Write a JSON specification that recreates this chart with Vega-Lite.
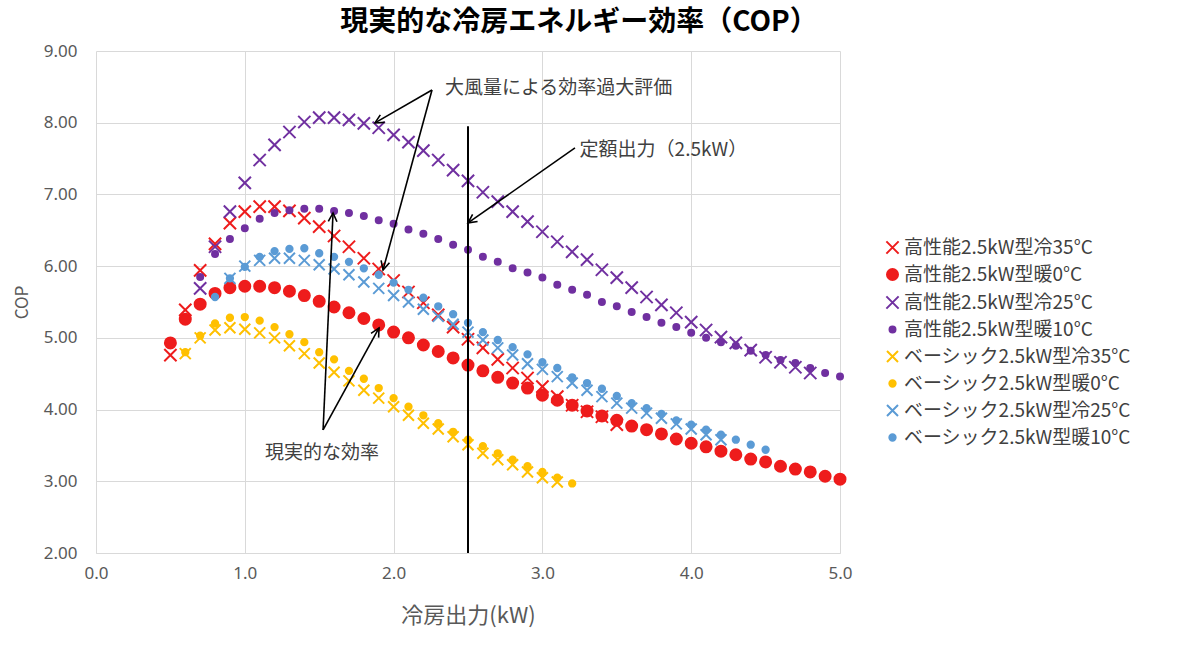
{
  "$schema": "https://vega.github.io/schema/vega-lite/v6.json",
  "description": "現実的な冷房エネルギー効率（COP）: 高性能とベーシックの2.5kW型エアコン",
  "autosize": "none",
  "padding": {"left": 96, "top": 51, "right": 360, "bottom": 101},
  "width": 744,
  "height": 502,
  "background": "white",
  "title": {
    "text": "現実的な冷房エネルギー効率（COP）",
    "font": "Noto Sans CJK JP",
    "fontSize": 28,
    "fontWeight": "bold",
    "color": "#000000",
    "anchor": "middle",
    "dx": 111,
    "offset": 5
  },
  "config": {
    "view": {"stroke": null},
    "axis": {
      "labelFont": "Noto Sans",
      "labelFontSize": 17,
      "labelColor": "#595959",
      "labelFlush": false,
      "titleFont": "Noto Sans CJK JP",
      "titleColor": "#595959",
      "titleFontWeight": "normal",
      "gridColor": "#d9d9d9",
      "domainColor": "#d9d9d9",
      "ticks": false
    },
    "legend": {
      "labelFont": "Noto Sans CJK JP",
      "labelFontSize": 19,
      "labelColor": "#404040",
      "labelLimit": 400,
      "symbolStrokeWidth": 2,
      "padding": 0
    }
  },
  "layer": [
    {
      "data": {
        "values": [
          {"s": "高性能2.5kW型冷35°C", "x": 0.5, "y": 4.76},
          {"s": "高性能2.5kW型冷35°C", "x": 0.6, "y": 5.39},
          {"s": "高性能2.5kW型冷35°C", "x": 0.7, "y": 5.94},
          {"s": "高性能2.5kW型冷35°C", "x": 0.8, "y": 6.31},
          {"s": "高性能2.5kW型冷35°C", "x": 0.9, "y": 6.6},
          {"s": "高性能2.5kW型冷35°C", "x": 1.0, "y": 6.76},
          {"s": "高性能2.5kW型冷35°C", "x": 1.1, "y": 6.83},
          {"s": "高性能2.5kW型冷35°C", "x": 1.2, "y": 6.83},
          {"s": "高性能2.5kW型冷35°C", "x": 1.3, "y": 6.77},
          {"s": "高性能2.5kW型冷35°C", "x": 1.4, "y": 6.67},
          {"s": "高性能2.5kW型冷35°C", "x": 1.5, "y": 6.55},
          {"s": "高性能2.5kW型冷35°C", "x": 1.6, "y": 6.42},
          {"s": "高性能2.5kW型冷35°C", "x": 1.7, "y": 6.27},
          {"s": "高性能2.5kW型冷35°C", "x": 1.8, "y": 6.11},
          {"s": "高性能2.5kW型冷35°C", "x": 1.9, "y": 5.96},
          {"s": "高性能2.5kW型冷35°C", "x": 2.0, "y": 5.8},
          {"s": "高性能2.5kW型冷35°C", "x": 2.1, "y": 5.64},
          {"s": "高性能2.5kW型冷35°C", "x": 2.2, "y": 5.49},
          {"s": "高性能2.5kW型冷35°C", "x": 2.3, "y": 5.32},
          {"s": "高性能2.5kW型冷35°C", "x": 2.4, "y": 5.15},
          {"s": "高性能2.5kW型冷35°C", "x": 2.5, "y": 4.98},
          {"s": "高性能2.5kW型冷35°C", "x": 2.6, "y": 4.86},
          {"s": "高性能2.5kW型冷35°C", "x": 2.7, "y": 4.7},
          {"s": "高性能2.5kW型冷35°C", "x": 2.8, "y": 4.58},
          {"s": "高性能2.5kW型冷35°C", "x": 2.9, "y": 4.44},
          {"s": "高性能2.5kW型冷35°C", "x": 3.0, "y": 4.32},
          {"s": "高性能2.5kW型冷35°C", "x": 3.1, "y": 4.18},
          {"s": "高性能2.5kW型冷35°C", "x": 3.2, "y": 4.06},
          {"s": "高性能2.5kW型冷35°C", "x": 3.3, "y": 3.97},
          {"s": "高性能2.5kW型冷35°C", "x": 3.4, "y": 3.9},
          {"s": "高性能2.5kW型冷35°C", "x": 3.5, "y": 3.79},

          {"s": "高性能2.5kW型暖0°C", "x": 0.5, "y": 4.93},
          {"s": "高性能2.5kW型暖0°C", "x": 0.6, "y": 5.26},
          {"s": "高性能2.5kW型暖0°C", "x": 0.7, "y": 5.47},
          {"s": "高性能2.5kW型暖0°C", "x": 0.8, "y": 5.62},
          {"s": "高性能2.5kW型暖0°C", "x": 0.9, "y": 5.7},
          {"s": "高性能2.5kW型暖0°C", "x": 1.0, "y": 5.72},
          {"s": "高性能2.5kW型暖0°C", "x": 1.1, "y": 5.72},
          {"s": "高性能2.5kW型暖0°C", "x": 1.2, "y": 5.7},
          {"s": "高性能2.5kW型暖0°C", "x": 1.3, "y": 5.65},
          {"s": "高性能2.5kW型暖0°C", "x": 1.4, "y": 5.59},
          {"s": "高性能2.5kW型暖0°C", "x": 1.5, "y": 5.51},
          {"s": "高性能2.5kW型暖0°C", "x": 1.6, "y": 5.43},
          {"s": "高性能2.5kW型暖0°C", "x": 1.7, "y": 5.35},
          {"s": "高性能2.5kW型暖0°C", "x": 1.8, "y": 5.27},
          {"s": "高性能2.5kW型暖0°C", "x": 1.9, "y": 5.18},
          {"s": "高性能2.5kW型暖0°C", "x": 2.0, "y": 5.08},
          {"s": "高性能2.5kW型暖0°C", "x": 2.1, "y": 5.0},
          {"s": "高性能2.5kW型暖0°C", "x": 2.2, "y": 4.9},
          {"s": "高性能2.5kW型暖0°C", "x": 2.3, "y": 4.81},
          {"s": "高性能2.5kW型暖0°C", "x": 2.4, "y": 4.72},
          {"s": "高性能2.5kW型暖0°C", "x": 2.5, "y": 4.62},
          {"s": "高性能2.5kW型暖0°C", "x": 2.6, "y": 4.54},
          {"s": "高性能2.5kW型暖0°C", "x": 2.7, "y": 4.45},
          {"s": "高性能2.5kW型暖0°C", "x": 2.8, "y": 4.37},
          {"s": "高性能2.5kW型暖0°C", "x": 2.9, "y": 4.3},
          {"s": "高性能2.5kW型暖0°C", "x": 3.0, "y": 4.2},
          {"s": "高性能2.5kW型暖0°C", "x": 3.1, "y": 4.13},
          {"s": "高性能2.5kW型暖0°C", "x": 3.2, "y": 4.06},
          {"s": "高性能2.5kW型暖0°C", "x": 3.3, "y": 3.98},
          {"s": "高性能2.5kW型暖0°C", "x": 3.4, "y": 3.91},
          {"s": "高性能2.5kW型暖0°C", "x": 3.5, "y": 3.85},
          {"s": "高性能2.5kW型暖0°C", "x": 3.6, "y": 3.77},
          {"s": "高性能2.5kW型暖0°C", "x": 3.7, "y": 3.72},
          {"s": "高性能2.5kW型暖0°C", "x": 3.8, "y": 3.66},
          {"s": "高性能2.5kW型暖0°C", "x": 3.9, "y": 3.59},
          {"s": "高性能2.5kW型暖0°C", "x": 4.0, "y": 3.53},
          {"s": "高性能2.5kW型暖0°C", "x": 4.1, "y": 3.48},
          {"s": "高性能2.5kW型暖0°C", "x": 4.2, "y": 3.42},
          {"s": "高性能2.5kW型暖0°C", "x": 4.3, "y": 3.37},
          {"s": "高性能2.5kW型暖0°C", "x": 4.4, "y": 3.31},
          {"s": "高性能2.5kW型暖0°C", "x": 4.5, "y": 3.27},
          {"s": "高性能2.5kW型暖0°C", "x": 4.6, "y": 3.21},
          {"s": "高性能2.5kW型暖0°C", "x": 4.7, "y": 3.17},
          {"s": "高性能2.5kW型暖0°C", "x": 4.8, "y": 3.13},
          {"s": "高性能2.5kW型暖0°C", "x": 4.9, "y": 3.07},
          {"s": "高性能2.5kW型暖0°C", "x": 5.0, "y": 3.03},

          {"s": "高性能2.5kW型冷25°C", "x": 0.7, "y": 5.69},
          {"s": "高性能2.5kW型冷25°C", "x": 0.8, "y": 6.27},
          {"s": "高性能2.5kW型冷25°C", "x": 0.9, "y": 6.76},
          {"s": "高性能2.5kW型冷25°C", "x": 1.0, "y": 7.16},
          {"s": "高性能2.5kW型冷25°C", "x": 1.1, "y": 7.48},
          {"s": "高性能2.5kW型冷25°C", "x": 1.2, "y": 7.69},
          {"s": "高性能2.5kW型冷25°C", "x": 1.3, "y": 7.87},
          {"s": "高性能2.5kW型冷25°C", "x": 1.4, "y": 8.01},
          {"s": "高性能2.5kW型冷25°C", "x": 1.5, "y": 8.07},
          {"s": "高性能2.5kW型冷25°C", "x": 1.6, "y": 8.07},
          {"s": "高性能2.5kW型冷25°C", "x": 1.7, "y": 8.04},
          {"s": "高性能2.5kW型冷25°C", "x": 1.8, "y": 7.99},
          {"s": "高性能2.5kW型冷25°C", "x": 1.9, "y": 7.93},
          {"s": "高性能2.5kW型冷25°C", "x": 2.0, "y": 7.83},
          {"s": "高性能2.5kW型冷25°C", "x": 2.1, "y": 7.73},
          {"s": "高性能2.5kW型冷25°C", "x": 2.2, "y": 7.61},
          {"s": "高性能2.5kW型冷25°C", "x": 2.3, "y": 7.48},
          {"s": "高性能2.5kW型冷25°C", "x": 2.4, "y": 7.34},
          {"s": "高性能2.5kW型冷25°C", "x": 2.5, "y": 7.19},
          {"s": "高性能2.5kW型冷25°C", "x": 2.6, "y": 7.03},
          {"s": "高性能2.5kW型冷25°C", "x": 2.7, "y": 6.9},
          {"s": "高性能2.5kW型冷25°C", "x": 2.8, "y": 6.76},
          {"s": "高性能2.5kW型冷25°C", "x": 2.9, "y": 6.62},
          {"s": "高性能2.5kW型冷25°C", "x": 3.0, "y": 6.48},
          {"s": "高性能2.5kW型冷25°C", "x": 3.1, "y": 6.34},
          {"s": "高性能2.5kW型冷25°C", "x": 3.2, "y": 6.2},
          {"s": "高性能2.5kW型冷25°C", "x": 3.3, "y": 6.09},
          {"s": "高性能2.5kW型冷25°C", "x": 3.4, "y": 5.95},
          {"s": "高性能2.5kW型冷25°C", "x": 3.5, "y": 5.84},
          {"s": "高性能2.5kW型冷25°C", "x": 3.6, "y": 5.7},
          {"s": "高性能2.5kW型冷25°C", "x": 3.7, "y": 5.57},
          {"s": "高性能2.5kW型冷25°C", "x": 3.8, "y": 5.46},
          {"s": "高性能2.5kW型冷25°C", "x": 3.9, "y": 5.35},
          {"s": "高性能2.5kW型冷25°C", "x": 4.0, "y": 5.22},
          {"s": "高性能2.5kW型冷25°C", "x": 4.1, "y": 5.11},
          {"s": "高性能2.5kW型冷25°C", "x": 4.2, "y": 5.01},
          {"s": "高性能2.5kW型冷25°C", "x": 4.3, "y": 4.93},
          {"s": "高性能2.5kW型冷25°C", "x": 4.4, "y": 4.83},
          {"s": "高性能2.5kW型冷25°C", "x": 4.5, "y": 4.73},
          {"s": "高性能2.5kW型冷25°C", "x": 4.6, "y": 4.66},
          {"s": "高性能2.5kW型冷25°C", "x": 4.7, "y": 4.59},
          {"s": "高性能2.5kW型冷25°C", "x": 4.8, "y": 4.51},

          {"s": "高性能2.5kW型暖10°C", "x": 0.7, "y": 5.85},
          {"s": "高性能2.5kW型暖10°C", "x": 0.8, "y": 6.17},
          {"s": "高性能2.5kW型暖10°C", "x": 0.9, "y": 6.38},
          {"s": "高性能2.5kW型暖10°C", "x": 1.0, "y": 6.53},
          {"s": "高性能2.5kW型暖10°C", "x": 1.1, "y": 6.66},
          {"s": "高性能2.5kW型暖10°C", "x": 1.2, "y": 6.74},
          {"s": "高性能2.5kW型暖10°C", "x": 1.3, "y": 6.78},
          {"s": "高性能2.5kW型暖10°C", "x": 1.4, "y": 6.8},
          {"s": "高性能2.5kW型暖10°C", "x": 1.5, "y": 6.8},
          {"s": "高性能2.5kW型暖10°C", "x": 1.6, "y": 6.77},
          {"s": "高性能2.5kW型暖10°C", "x": 1.7, "y": 6.74},
          {"s": "高性能2.5kW型暖10°C", "x": 1.8, "y": 6.7},
          {"s": "高性能2.5kW型暖10°C", "x": 1.9, "y": 6.64},
          {"s": "高性能2.5kW型暖10°C", "x": 2.0, "y": 6.59},
          {"s": "高性能2.5kW型暖10°C", "x": 2.1, "y": 6.51},
          {"s": "高性能2.5kW型暖10°C", "x": 2.2, "y": 6.45},
          {"s": "高性能2.5kW型暖10°C", "x": 2.3, "y": 6.38},
          {"s": "高性能2.5kW型暖10°C", "x": 2.4, "y": 6.3},
          {"s": "高性能2.5kW型暖10°C", "x": 2.5, "y": 6.23},
          {"s": "高性能2.5kW型暖10°C", "x": 2.6, "y": 6.13},
          {"s": "高性能2.5kW型暖10°C", "x": 2.7, "y": 6.06},
          {"s": "高性能2.5kW型暖10°C", "x": 2.8, "y": 5.97},
          {"s": "高性能2.5kW型暖10°C", "x": 2.9, "y": 5.91},
          {"s": "高性能2.5kW型暖10°C", "x": 3.0, "y": 5.84},
          {"s": "高性能2.5kW型暖10°C", "x": 3.1, "y": 5.74},
          {"s": "高性能2.5kW型暖10°C", "x": 3.2, "y": 5.67},
          {"s": "高性能2.5kW型暖10°C", "x": 3.3, "y": 5.6},
          {"s": "高性能2.5kW型暖10°C", "x": 3.4, "y": 5.5},
          {"s": "高性能2.5kW型暖10°C", "x": 3.5, "y": 5.44},
          {"s": "高性能2.5kW型暖10°C", "x": 3.6, "y": 5.36},
          {"s": "高性能2.5kW型暖10°C", "x": 3.7, "y": 5.29},
          {"s": "高性能2.5kW型暖10°C", "x": 3.8, "y": 5.21},
          {"s": "高性能2.5kW型暖10°C", "x": 3.9, "y": 5.15},
          {"s": "高性能2.5kW型暖10°C", "x": 4.0, "y": 5.07},
          {"s": "高性能2.5kW型暖10°C", "x": 4.1, "y": 5.0},
          {"s": "高性能2.5kW型暖10°C", "x": 4.2, "y": 4.94},
          {"s": "高性能2.5kW型暖10°C", "x": 4.3, "y": 4.89},
          {"s": "高性能2.5kW型暖10°C", "x": 4.4, "y": 4.82},
          {"s": "高性能2.5kW型暖10°C", "x": 4.5, "y": 4.76},
          {"s": "高性能2.5kW型暖10°C", "x": 4.6, "y": 4.69},
          {"s": "高性能2.5kW型暖10°C", "x": 4.7, "y": 4.65},
          {"s": "高性能2.5kW型暖10°C", "x": 4.8, "y": 4.58},
          {"s": "高性能2.5kW型暖10°C", "x": 4.9, "y": 4.51},
          {"s": "高性能2.5kW型暖10°C", "x": 5.0, "y": 4.46},

          {"s": "ベーシック2.5kW型冷35°C", "x": 0.6, "y": 4.78},
          {"s": "ベーシック2.5kW型冷35°C", "x": 0.7, "y": 5.0},
          {"s": "ベーシック2.5kW型冷35°C", "x": 0.8, "y": 5.11},
          {"s": "ベーシック2.5kW型冷35°C", "x": 0.9, "y": 5.14},
          {"s": "ベーシック2.5kW型冷35°C", "x": 1.0, "y": 5.12},
          {"s": "ベーシック2.5kW型冷35°C", "x": 1.1, "y": 5.07},
          {"s": "ベーシック2.5kW型冷35°C", "x": 1.2, "y": 5.0},
          {"s": "ベーシック2.5kW型冷35°C", "x": 1.3, "y": 4.89},
          {"s": "ベーシック2.5kW型冷35°C", "x": 1.4, "y": 4.78},
          {"s": "ベーシック2.5kW型冷35°C", "x": 1.5, "y": 4.65},
          {"s": "ベーシック2.5kW型冷35°C", "x": 1.6, "y": 4.52},
          {"s": "ベーシック2.5kW型冷35°C", "x": 1.7, "y": 4.4},
          {"s": "ベーシック2.5kW型冷35°C", "x": 1.8, "y": 4.27},
          {"s": "ベーシック2.5kW型冷35°C", "x": 1.9, "y": 4.16},
          {"s": "ベーシック2.5kW型冷35°C", "x": 2.0, "y": 4.04},
          {"s": "ベーシック2.5kW型冷35°C", "x": 2.1, "y": 3.92},
          {"s": "ベーシック2.5kW型冷35°C", "x": 2.2, "y": 3.81},
          {"s": "ベーシック2.5kW型冷35°C", "x": 2.3, "y": 3.73},
          {"s": "ベーシック2.5kW型冷35°C", "x": 2.4, "y": 3.62},
          {"s": "ベーシック2.5kW型冷35°C", "x": 2.5, "y": 3.51},
          {"s": "ベーシック2.5kW型冷35°C", "x": 2.6, "y": 3.39},
          {"s": "ベーシック2.5kW型冷35°C", "x": 2.7, "y": 3.3},
          {"s": "ベーシック2.5kW型冷35°C", "x": 2.8, "y": 3.23},
          {"s": "ベーシック2.5kW型冷35°C", "x": 2.9, "y": 3.13},
          {"s": "ベーシック2.5kW型冷35°C", "x": 3.0, "y": 3.05},
          {"s": "ベーシック2.5kW型冷35°C", "x": 3.1, "y": 2.99},

          {"s": "ベーシック2.5kW型暖0°C", "x": 0.6, "y": 4.8},
          {"s": "ベーシック2.5kW型暖0°C", "x": 0.7, "y": 5.03},
          {"s": "ベーシック2.5kW型暖0°C", "x": 0.8, "y": 5.2},
          {"s": "ベーシック2.5kW型暖0°C", "x": 0.9, "y": 5.28},
          {"s": "ベーシック2.5kW型暖0°C", "x": 1.0, "y": 5.29},
          {"s": "ベーシック2.5kW型暖0°C", "x": 1.1, "y": 5.24},
          {"s": "ベーシック2.5kW型暖0°C", "x": 1.2, "y": 5.15},
          {"s": "ベーシック2.5kW型暖0°C", "x": 1.3, "y": 5.05},
          {"s": "ベーシック2.5kW型暖0°C", "x": 1.4, "y": 4.94},
          {"s": "ベーシック2.5kW型暖0°C", "x": 1.5, "y": 4.8},
          {"s": "ベーシック2.5kW型暖0°C", "x": 1.6, "y": 4.7},
          {"s": "ベーシック2.5kW型暖0°C", "x": 1.7, "y": 4.54},
          {"s": "ベーシック2.5kW型暖0°C", "x": 1.8, "y": 4.43},
          {"s": "ベーシック2.5kW型暖0°C", "x": 1.9, "y": 4.3},
          {"s": "ベーシック2.5kW型暖0°C", "x": 2.0, "y": 4.16},
          {"s": "ベーシック2.5kW型暖0°C", "x": 2.1, "y": 4.04},
          {"s": "ベーシック2.5kW型暖0°C", "x": 2.2, "y": 3.92},
          {"s": "ベーシック2.5kW型暖0°C", "x": 2.3, "y": 3.81},
          {"s": "ベーシック2.5kW型暖0°C", "x": 2.4, "y": 3.69},
          {"s": "ベーシック2.5kW型暖0°C", "x": 2.5, "y": 3.58},
          {"s": "ベーシック2.5kW型暖0°C", "x": 2.6, "y": 3.49},
          {"s": "ベーシック2.5kW型暖0°C", "x": 2.7, "y": 3.39},
          {"s": "ベーシック2.5kW型暖0°C", "x": 2.8, "y": 3.3},
          {"s": "ベーシック2.5kW型暖0°C", "x": 2.9, "y": 3.21},
          {"s": "ベーシック2.5kW型暖0°C", "x": 3.0, "y": 3.13},
          {"s": "ベーシック2.5kW型暖0°C", "x": 3.1, "y": 3.05},
          {"s": "ベーシック2.5kW型暖0°C", "x": 3.2, "y": 2.97},

          {"s": "ベーシック2.5kW型冷25°C", "x": 0.9, "y": 5.83},
          {"s": "ベーシック2.5kW型冷25°C", "x": 1.0, "y": 6.0},
          {"s": "ベーシック2.5kW型冷25°C", "x": 1.1, "y": 6.08},
          {"s": "ベーシック2.5kW型冷25°C", "x": 1.2, "y": 6.11},
          {"s": "ベーシック2.5kW型冷25°C", "x": 1.3, "y": 6.11},
          {"s": "ベーシック2.5kW型冷25°C", "x": 1.4, "y": 6.08},
          {"s": "ベーシック2.5kW型冷25°C", "x": 1.5, "y": 6.02},
          {"s": "ベーシック2.5kW型冷25°C", "x": 1.6, "y": 5.96},
          {"s": "ベーシック2.5kW型冷25°C", "x": 1.7, "y": 5.88},
          {"s": "ベーシック2.5kW型冷25°C", "x": 1.8, "y": 5.78},
          {"s": "ベーシック2.5kW型冷25°C", "x": 1.9, "y": 5.69},
          {"s": "ベーシック2.5kW型冷25°C", "x": 2.0, "y": 5.59},
          {"s": "ベーシック2.5kW型冷25°C", "x": 2.1, "y": 5.5},
          {"s": "ベーシック2.5kW型冷25°C", "x": 2.2, "y": 5.4},
          {"s": "ベーシック2.5kW型冷25°C", "x": 2.3, "y": 5.3},
          {"s": "ベーシック2.5kW型冷25°C", "x": 2.4, "y": 5.19},
          {"s": "ベーシック2.5kW型冷25°C", "x": 2.5, "y": 5.08},
          {"s": "ベーシック2.5kW型冷25°C", "x": 2.6, "y": 4.97},
          {"s": "ベーシック2.5kW型冷25°C", "x": 2.7, "y": 4.86},
          {"s": "ベーシック2.5kW型冷25°C", "x": 2.8, "y": 4.76},
          {"s": "ベーシック2.5kW型冷25°C", "x": 2.9, "y": 4.64},
          {"s": "ベーシック2.5kW型冷25°C", "x": 3.0, "y": 4.56},
          {"s": "ベーシック2.5kW型冷25°C", "x": 3.1, "y": 4.46},
          {"s": "ベーシック2.5kW型冷25°C", "x": 3.2, "y": 4.37},
          {"s": "ベーシック2.5kW型冷25°C", "x": 3.3, "y": 4.27},
          {"s": "ベーシック2.5kW型冷25°C", "x": 3.4, "y": 4.18},
          {"s": "ベーシック2.5kW型冷25°C", "x": 3.5, "y": 4.09},
          {"s": "ベーシック2.5kW型冷25°C", "x": 3.6, "y": 4.02},
          {"s": "ベーシック2.5kW型冷25°C", "x": 3.7, "y": 3.95},
          {"s": "ベーシック2.5kW型冷25°C", "x": 3.8, "y": 3.88},
          {"s": "ベーシック2.5kW型冷25°C", "x": 3.9, "y": 3.8},
          {"s": "ベーシック2.5kW型冷25°C", "x": 4.0, "y": 3.73},
          {"s": "ベーシック2.5kW型冷25°C", "x": 4.1, "y": 3.65},
          {"s": "ベーシック2.5kW型冷25°C", "x": 4.2, "y": 3.58},

          {"s": "ベーシック2.5kW型暖10°C", "x": 0.8, "y": 5.57},
          {"s": "ベーシック2.5kW型暖10°C", "x": 0.9, "y": 5.83},
          {"s": "ベーシック2.5kW型暖10°C", "x": 1.0, "y": 5.99},
          {"s": "ベーシック2.5kW型暖10°C", "x": 1.1, "y": 6.13},
          {"s": "ベーシック2.5kW型暖10°C", "x": 1.2, "y": 6.21},
          {"s": "ベーシック2.5kW型暖10°C", "x": 1.3, "y": 6.24},
          {"s": "ベーシック2.5kW型暖10°C", "x": 1.4, "y": 6.25},
          {"s": "ベーシック2.5kW型暖10°C", "x": 1.5, "y": 6.18},
          {"s": "ベーシック2.5kW型暖10°C", "x": 1.6, "y": 6.13},
          {"s": "ベーシック2.5kW型暖10°C", "x": 1.7, "y": 6.06},
          {"s": "ベーシック2.5kW型暖10°C", "x": 1.8, "y": 5.97},
          {"s": "ベーシック2.5kW型暖10°C", "x": 1.9, "y": 5.88},
          {"s": "ベーシック2.5kW型暖10°C", "x": 2.0, "y": 5.77},
          {"s": "ベーシック2.5kW型暖10°C", "x": 2.1, "y": 5.67},
          {"s": "ベーシック2.5kW型暖10°C", "x": 2.2, "y": 5.56},
          {"s": "ベーシック2.5kW型暖10°C", "x": 2.3, "y": 5.44},
          {"s": "ベーシック2.5kW型暖10°C", "x": 2.4, "y": 5.33},
          {"s": "ベーシック2.5kW型暖10°C", "x": 2.5, "y": 5.21},
          {"s": "ベーシック2.5kW型暖10°C", "x": 2.6, "y": 5.08},
          {"s": "ベーシック2.5kW型暖10°C", "x": 2.7, "y": 4.97},
          {"s": "ベーシック2.5kW型暖10°C", "x": 2.8, "y": 4.87},
          {"s": "ベーシック2.5kW型暖10°C", "x": 2.9, "y": 4.77},
          {"s": "ベーシック2.5kW型暖10°C", "x": 3.0, "y": 4.66},
          {"s": "ベーシック2.5kW型暖10°C", "x": 3.1, "y": 4.58},
          {"s": "ベーシック2.5kW型暖10°C", "x": 3.2, "y": 4.45},
          {"s": "ベーシック2.5kW型暖10°C", "x": 3.3, "y": 4.37},
          {"s": "ベーシック2.5kW型暖10°C", "x": 3.4, "y": 4.29},
          {"s": "ベーシック2.5kW型暖10°C", "x": 3.5, "y": 4.19},
          {"s": "ベーシック2.5kW型暖10°C", "x": 3.6, "y": 4.09},
          {"s": "ベーシック2.5kW型暖10°C", "x": 3.7, "y": 4.02},
          {"s": "ベーシック2.5kW型暖10°C", "x": 3.8, "y": 3.94},
          {"s": "ベーシック2.5kW型暖10°C", "x": 3.9, "y": 3.85},
          {"s": "ベーシック2.5kW型暖10°C", "x": 4.0, "y": 3.79},
          {"s": "ベーシック2.5kW型暖10°C", "x": 4.1, "y": 3.72},
          {"s": "ベーシック2.5kW型暖10°C", "x": 4.2, "y": 3.65},
          {"s": "ベーシック2.5kW型暖10°C", "x": 4.3, "y": 3.58},
          {"s": "ベーシック2.5kW型暖10°C", "x": 4.4, "y": 3.51},
          {"s": "ベーシック2.5kW型暖10°C", "x": 4.5, "y": 3.44}
        ]
      },
      "mark": {"type": "point", "filled": true, "strokeWidth": 2, "opacity": 1},
      "encoding": {
        "x": {
          "field": "x", "type": "quantitative",
          "scale": {"domain": [0, 5], "nice": false, "zero": false},
          "axis": {
            "values": [0, 1, 2, 3, 4, 5], "format": ".1f", "grid": true,
            "labelPadding": 12, "title": "冷房出力(kW)", "titleFontSize": 22, "titlePadding": 24
          }
        },
        "y": {
          "field": "y", "type": "quantitative",
          "scale": {"domain": [2, 9], "nice": false, "zero": false},
          "axis": {
            "values": [2, 3, 4, 5, 6, 7, 8, 9], "format": ".2f", "grid": true, "domain": false,
            "labelPadding": 19, "title": "COP", "titleFontSize": 17, "titlePadding": 12
          }
        },
        "fill": {
          "field": "s", "type": "nominal",
          "scale": {
            "domain": ["高性能2.5kW型冷35°C", "高性能2.5kW型暖0°C", "高性能2.5kW型冷25°C", "高性能2.5kW型暖10°C", "ベーシック2.5kW型冷35°C", "ベーシック2.5kW型暖0°C", "ベーシック2.5kW型冷25°C", "ベーシック2.5kW型暖10°C"],
            "range": ["#ee1c1c", "#ee1c1c", "#7030a0", "#7030a0", "#ffc000", "#ffc000", "#5b9bd5", "#5b9bd5"]
          },
          "legend": {
            "title": null, "orient": "none", "legendX": 787, "legendY": 187,
            "labelOffset": 2, "rowPadding": 7
          }
        },
        "stroke": {
          "field": "s", "type": "nominal",
          "scale": {
            "domain": ["高性能2.5kW型冷35°C", "高性能2.5kW型暖0°C", "高性能2.5kW型冷25°C", "高性能2.5kW型暖10°C", "ベーシック2.5kW型冷35°C", "ベーシック2.5kW型暖0°C", "ベーシック2.5kW型冷25°C", "ベーシック2.5kW型暖10°C"],
            "range": ["#ee1c1c", "#ee1c1c", "#7030a0", "#7030a0", "#ffc000", "#ffc000", "#5b9bd5", "#5b9bd5"]
          },
          "legend": {
            "title": null, "orient": "none", "legendX": 787, "legendY": 187,
            "labelOffset": 2, "rowPadding": 7
          }
        },
        "shape": {
          "field": "s", "type": "nominal",
          "scale": {
            "domain": ["高性能2.5kW型冷35°C", "高性能2.5kW型暖0°C", "高性能2.5kW型冷25°C", "高性能2.5kW型暖10°C", "ベーシック2.5kW型冷35°C", "ベーシック2.5kW型暖0°C", "ベーシック2.5kW型冷25°C", "ベーシック2.5kW型暖10°C"],
            "range": ["M-1,-1L1,1M-1,1L1,-1", "circle", "M-1,-1L1,1M-1,1L1,-1", "circle", "M-1,-1L1,1M-1,1L1,-1", "circle", "M-1,-1L1,1M-1,1L1,-1", "circle"]
          },
          "legend": {
            "title": null, "orient": "none", "legendX": 787, "legendY": 187,
            "labelOffset": 2, "rowPadding": 7
          }
        },
        "size": {
          "field": "s", "type": "nominal",
          "scale": {
            "type": "ordinal",
            "domain": ["高性能2.5kW型冷35°C", "高性能2.5kW型暖0°C", "高性能2.5kW型冷25°C", "高性能2.5kW型暖10°C", "ベーシック2.5kW型冷35°C", "ベーシック2.5kW型暖0°C", "ベーシック2.5kW型冷25°C", "ベーシック2.5kW型暖10°C"],
            "range": [150, 121, 150, 36, 121, 40, 121, 40]
          },
          "legend": {
            "title": null, "orient": "none", "legendX": 787, "legendY": 187,
            "labelOffset": 2, "rowPadding": 7
          }
        }
      }
    },
    {
      "data": {"values": [{"x": 2.5, "y": 2.0, "y2": 7.95}]},
      "mark": {"type": "rule", "color": "#000000", "strokeWidth": 2},
      "encoding": {
        "x": {"field": "x", "type": "quantitative"},
        "y": {"field": "y", "type": "quantitative"},
        "y2": {"field": "y2"}
      }
    },
    {
      "data": {
        "values": [
          {"x": 2.258, "y": 8.457, "x2": 1.875, "y2": 7.997, "angle": 240},
          {"x": 2.258, "y": 8.457, "x2": 1.929, "y2": 5.947, "angle": 195},
          {"x": 1.526, "y": 3.716, "x2": 1.593, "y2": 6.742, "angle": 2.6},
          {"x": 1.526, "y": 3.716, "x2": 1.902, "y2": 5.138, "angle": 29},
          {"x": 3.219, "y": 7.649, "x2": 2.5, "y2": 6.603, "angle": 235}
        ]
      },
      "layer": [
        {
          "mark": {"type": "rule", "color": "#000000", "strokeWidth": 1.6},
          "encoding": {
            "x": {"field": "x", "type": "quantitative"},
            "y": {"field": "y", "type": "quantitative"},
            "x2": {"field": "x2"},
            "y2": {"field": "y2"}
          }
        },
        {
          "mark": {"type": "point", "shape": "M-0.5,1L0,0L0.5,1", "filled": false, "stroke": "#000000", "strokeWidth": 1.6, "size": 300, "opacity": 1},
          "encoding": {
            "x": {"field": "x2", "type": "quantitative"},
            "y": {"field": "y2", "type": "quantitative"},
            "angle": {"field": "angle", "type": "quantitative", "scale": null}
          }
        }
      ]
    },
    {
      "data": {
        "values": [
          {"x": 2.345, "y": 8.485, "t": "大風量による効率過大評価"},
          {"x": 3.25, "y": 7.62, "t": "定額出力（2.5kW）"},
          {"x": 1.136, "y": 3.39, "t": "現実的な効率"}
        ]
      },
      "mark": {"type": "text", "align": "left", "baseline": "middle", "font": "Noto Sans CJK JP", "fontSize": 19, "color": "#404040"},
      "encoding": {
        "x": {"field": "x", "type": "quantitative"},
        "y": {"field": "y", "type": "quantitative"},
        "text": {"field": "t"}
      }
    }
  ]
}
